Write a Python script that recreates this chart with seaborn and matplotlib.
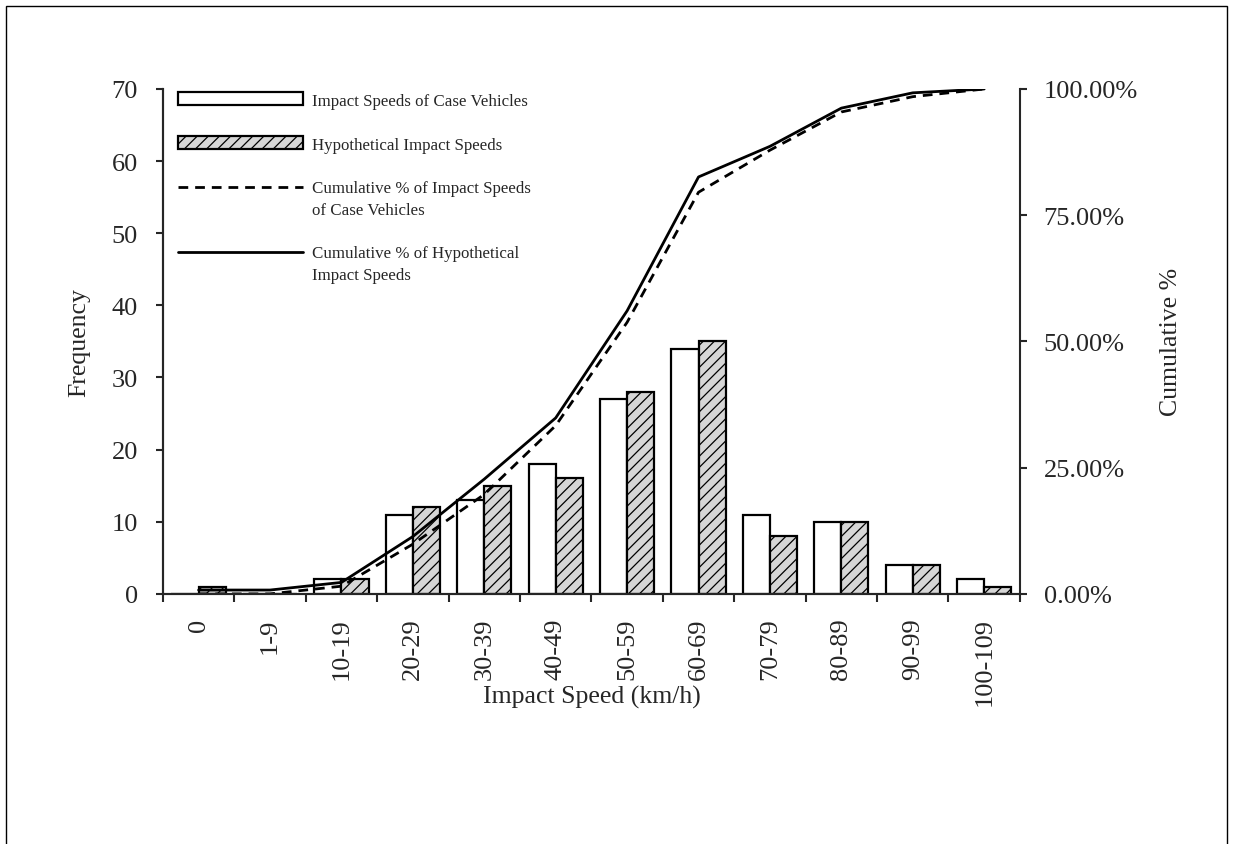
import numpy as np
import pandas as pd
import seaborn as sns
import matplotlib.pyplot as plt
from matplotlib.patches import Patch, Rectangle
from matplotlib.lines import Line2D
from matplotlib.legend_handler import HandlerLine2D

speed_bins = ['0', '1-9', '10-19', '20-29', '30-39', '40-49', '50-59',
              '60-69', '70-79', '80-89', '90-99', '100-109']
case_freq = [0, 0, 2, 11, 13, 18, 27, 34, 11, 10, 4, 2]
hypo_freq = [1, 0, 2, 12, 15, 16, 28, 35, 8, 10, 4, 1]
# cumulative percentages
case_cum = [0.0, 0.0, 1.52, 9.85, 19.70, 33.33, 53.79, 79.55, 87.88, 95.45, 98.48, 100.0]
hypo_cum = [0.76, 0.76, 2.27, 11.36, 22.73, 34.85, 56.06, 82.58, 88.64, 96.21, 99.24, 100.0]

case_label = 'Impact Speeds of Case Vehicles'
hypo_label = 'Hypothetical Impact Speeds'
case_cum_label = 'Cumulative % of Impact Speeds\nof Case Vehicles'
hypo_cum_label = 'Cumulative % of Hypothetical\nImpact Speeds'

sns.set_style('ticks')
plt.rcParams['font.family'] = ['Liberation Serif', 'DejaVu Serif']
plt.rcParams['hatch.linewidth'] = 0.9
plt.rcParams['axes.linewidth'] = 1.5

df = pd.DataFrame({
    'Speed': speed_bins * 2,
    'Frequency': case_freq + hypo_freq,
    'Series': [case_label] * len(speed_bins) + [hypo_label] * len(speed_bins),
})

fig = plt.figure(figsize=(12.34, 8.45), dpi=100)
ax = fig.add_axes([0.132, 0.296, 0.6945, 0.5975])

sns.barplot(data=df, x='Speed', y='Frequency', hue='Series', order=speed_bins,
            hue_order=[case_label, hypo_label], palette=['white', '#d6d6d6'],
            edgecolor='black', linewidth=1.6, width=0.76, gap=0, legend=False, ax=ax)
for bar in ax.containers[1]:
    bar.set_hatch('///')

ax.set_xlim(-0.5, len(speed_bins) - 0.5)
ax.set_ylim(0, 70)
ax.set_yticks(range(0, 71, 10))
ax.set_xticks(range(len(speed_bins)))
ax.set_xticklabels(speed_bins, rotation=90)
ax.set_xticks(np.arange(-0.5, len(speed_bins), 1), minor=True)
ax.tick_params(axis='x', which='major', length=0, pad=17, labelsize=19)
ax.tick_params(axis='x', which='minor', length=6, width=1.5)
ax.tick_params(axis='y', length=5, width=1.5, pad=13, labelsize=19)
ax.spines['top'].set_visible(False)
ax.spines['right'].set_visible(False)
ax.set_xlabel('Impact Speed (km/h)', fontsize=18.5)
ax.set_ylabel('Frequency', fontsize=18.5)
ax.xaxis.set_label_coords(0.5, -0.18)
ax.yaxis.set_label_coords(-0.085, 0.5)

ax2 = ax.twinx()
sns.lineplot(x=speed_bins, y=case_cum, ax=ax2, color='black', linewidth=2.0, sort=False)
sns.lineplot(x=speed_bins, y=hypo_cum, ax=ax2, color='black', linewidth=2.0, sort=False)
ax2.lines[0].set_dashes((3.5, 2.5))
ax2.set_ylim(0, 100)
ax2.set_yticks([0, 25, 50, 75, 100])
ax2.set_yticklabels([f'{v:.2f}%' for v in [0, 25, 50, 75, 100]])
ax2.tick_params(axis='y', length=5, width=1.5, pad=12, labelsize=19)
ax2.spines['top'].set_visible(False)
ax2.set_ylabel('Cumulative %', fontsize=18.5)
ax2.yaxis.set_label_coords(1.163, 0.5)


class TopLine(HandlerLine2D):
    # put the line next to the first text line of a two-line label
    def create_artists(self, legend, orig_handle, xdescent, ydescent, width, height, fontsize, trans):
        artists = super().create_artists(legend, orig_handle, xdescent, ydescent,
                                         width, height, fontsize, trans)
        for a in artists:
            a.set_ydata(np.asarray(a.get_ydata()) + fontsize * 0.72)
        return artists


handles = [
    Patch(facecolor='white', edgecolor='black', linewidth=1.6),
    Patch(facecolor='#d6d6d6', edgecolor='black', linewidth=1.6, hatch='///'),
    Line2D([], [], color='black', linewidth=2.0, dashes=(3.5, 2.5)),
    Line2D([], [], color='black', linewidth=2.0),
]
leg = ax2.legend(handles, [case_label, hypo_label, case_cum_label, hypo_cum_label],
                 loc='upper left', bbox_to_anchor=(0.0175, 0.994), frameon=False,
                 fontsize=12.2, handlelength=7.4, handleheight=0.83, handletextpad=0.53,
                 labelspacing=1.62, borderpad=0, borderaxespad=0,
                 handler_map={Line2D: TopLine()})
for t in leg.get_texts():
    t.set_linespacing(1.5)

fig.add_artist(Rectangle((6 / 1234, -0.02), 1221 / 1234, 1.02 - 7 / 845,
                         transform=fig.transFigure, fill=False, linewidth=1.0,
                         edgecolor='black'))

fig.savefig('out.png', dpi=100)
